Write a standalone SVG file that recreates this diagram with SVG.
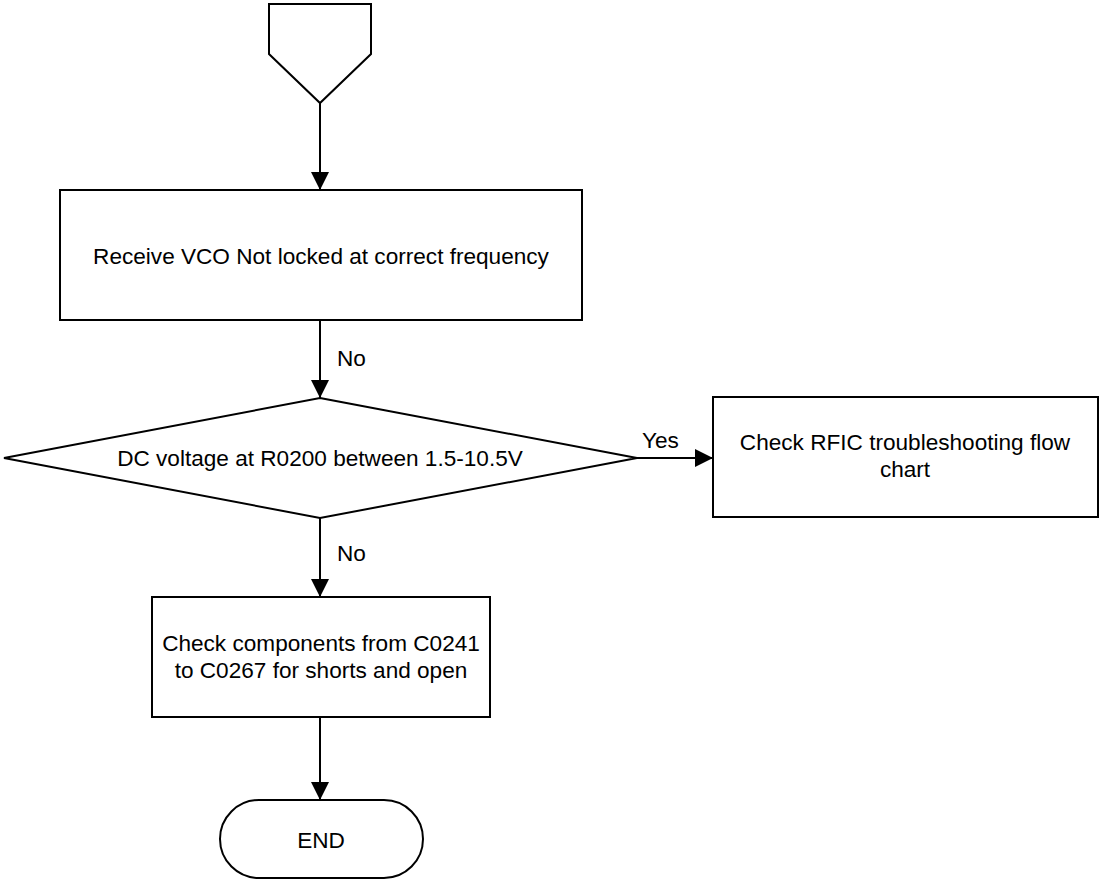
<svg xmlns="http://www.w3.org/2000/svg" width="1101" height="882" viewBox="0 0 1101 882">
<style>
.s{fill:#fff;stroke:#000;stroke-width:2}
.c{fill:none;stroke:#000;stroke-width:2}
text{font-family:"Liberation Sans",Arial,sans-serif;font-size:22.6px;fill:#000}
.m{text-anchor:middle}
</style>
<defs>
<marker id="a" markerUnits="userSpaceOnUse" markerWidth="18" markerHeight="18" refX="18" refY="9" orient="auto">
<path d="M0,0 L18,9 L0,18 z" fill="#000"/>
</marker>
</defs>
<rect width="1101" height="882" fill="#fff"/>
<g id="start">
<polygon class="s" points="269,4 371,4 371,54 320,103 269,54"/>
</g>
<g id="box1">
<rect class="s" x="60" y="190" width="522" height="130"/>
<text class="m" x="321" y="264">Receive VCO Not locked at correct frequency</text>
</g>
<g id="decision">
<polygon class="s" points="320,398 637,458 320,518 4,458"/>
<text class="m" x="320" y="466">DC voltage at R0200 between 1.5-10.5V</text>
</g>
<g id="rfic">
<rect class="s" x="713" y="397" width="385" height="120"/>
<text class="m" x="905" y="450">Check RFIC troubleshooting flow</text>
<text class="m" x="905" y="477">chart</text>
</g>
<g id="box3">
<rect class="s" x="152" y="597" width="338" height="120"/>
<text class="m" x="321" y="651">Check components from C0241</text>
<text class="m" x="321" y="678">to C0267 for shorts and open</text>
</g>
<g id="end">
<rect class="s" x="220" y="800" width="203" height="78" rx="39" ry="39"/>
<text class="m" x="321" y="848">END</text>
</g>
<g id="connectors">
<line class="c" x1="320" y1="103" x2="320" y2="190" marker-end="url(#a)"/>
<line class="c" x1="320" y1="320" x2="320" y2="398" marker-end="url(#a)"/>
<text x="337" y="366">No</text>
<line class="c" x1="637" y1="458" x2="713" y2="458" marker-end="url(#a)"/>
<text x="642" y="448">Yes</text>
<line class="c" x1="320" y1="518" x2="320" y2="597" marker-end="url(#a)"/>
<text x="337" y="561">No</text>
<line class="c" x1="320" y1="717" x2="320" y2="800" marker-end="url(#a)"/>
</g>
</svg>
